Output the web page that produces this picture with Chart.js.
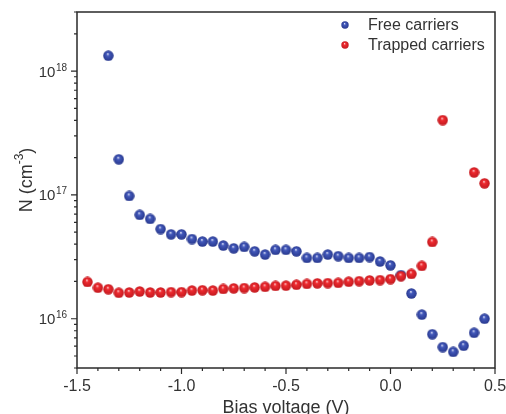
<!DOCTYPE html>
<html>
<head>
<meta charset="utf-8">
<script src="https://cdn.jsdelivr.net/npm/chart.js@4.4.1/dist/chart.umd.min.js"></script>
<style>
    html, body { margin: 0; padding: 0; background: #fff; }
    #chart { display: block; }
</style>
</head>
<body>
<canvas id="chart" width="506" height="414"></canvas>
<script>
/*Data*/
var freeVoltage = [-1.35, -1.30, -1.25, -1.20, -1.15, -1.10, -1.05, -1.00, -0.95, -0.90,
                   -0.85, -0.80, -0.75, -0.70, -0.65, -0.60, -0.55, -0.50, -0.45, -0.40,
                   -0.35, -0.30, -0.25, -0.20, -0.15, -0.10, -0.05, 0.00, 0.05, 0.10,
                   0.15, 0.20, 0.25, 0.30, 0.35, 0.40, 0.45];
var freeN = [1.33e18, 1.94e17, 9.8e16, 6.9e16, 6.4e16, 5.3e16, 4.8e16, 4.8e16, 4.4e16, 4.2e16,
             4.2e16, 3.9e16, 3.7e16, 3.8e16, 3.5e16, 3.3e16, 3.6e16, 3.6e16, 3.5e16, 3.1e16,
             3.1e16, 3.3e16, 3.2e16, 3.1e16, 3.1e16, 3.15e16, 2.9e16, 2.7e16, 2.25e16, 1.6e16,
             1.08e16, 7.5e15, 5.9e15, 5.4e15, 6.05e15, 7.7e15, 1.0e16];
var trapVoltage = [-1.45, -1.40, -1.35, -1.30, -1.25, -1.20, -1.15, -1.10, -1.05, -1.00,
                   -0.95, -0.90, -0.85, -0.80, -0.75, -0.70, -0.65, -0.60, -0.55, -0.50,
                   -0.45, -0.40, -0.35, -0.30, -0.25, -0.20, -0.15, -0.10, -0.05, 0.00,
                   0.05, 0.10, 0.15, 0.20, 0.25, 0.40, 0.45];
var trapN = [1.98e16, 1.78e16, 1.73e16, 1.62e16, 1.63e16, 1.66e16, 1.63e16, 1.63e16, 1.64e16, 1.64e16,
             1.69e16, 1.70e16, 1.69e16, 1.74e16, 1.76e16, 1.77e16, 1.79e16, 1.81e16, 1.84e16, 1.85e16,
             1.88e16, 1.91e16, 1.93e16, 1.94e16, 1.95e16, 1.99e16, 2.01e16, 2.04e16, 2.05e16, 2.09e16,
             2.21e16, 2.30e16, 2.67e16, 4.17e16, 4.02e17, 1.52e17, 1.24e17];
var seriesLabels = ['Free carriers', 'Trapped carriers'];
var xTickValues = [-1.5, -1.0, -0.5, 0.0, 0.5];
var yPowers = [16, 17, 18];

var fontFamily = '"Liberation Sans", Arial, Helvetica, sans-serif';
var textColor = '#333';
var frameColor = '#2a2a2a';

/*Glossy ball marker*/
var makeBall = function(size, base, dark, light) {
    var c = document.createElement('canvas');
    c.width = size;
    c.height = size;
    var g = c.getContext('2d');
    var r = size / 2;
    var grad = g.createRadialGradient(r - r * 0.12, r - r * 0.35, 0, r, r, r);
    grad.addColorStop(0, light);
    grad.addColorStop(0.3, base);
    grad.addColorStop(1, dark);
    g.fillStyle = grad;
    g.beginPath();
    g.arc(r, r, r - 0.3, 0, Math.PI * 2);
    g.fill();
    return c;
};

var blueBall = makeBall(11, '#4258ba', '#27378c', '#eef1ff');
var redBall = makeBall(11, '#ee2a2f', '#c0191f', '#ffe0e0');
var legendBalls = [makeBall(8, '#4258ba', '#27378c', '#eef1ff'),
                   makeBall(8, '#ee2a2f', '#c0191f', '#ffe0e0')];

var toPoints = function(xs, ys) {
    return xs.map(function(x, i) { return {x: x, y: ys[i]}; });
};

/*Frame, ticks, y labels, y title and legend*/
var decorPlugin = {
    id: 'decor',
    afterDraw: function(chart) {
        var ctx = chart.ctx;
        var area = chart.chartArea;
        var xs = chart.scales.x;
        var ys = chart.scales.y;
        var i, m, p, v, px, len;

        ctx.save();
        ctx.strokeStyle = frameColor;
        ctx.lineWidth = 1.5;
        ctx.strokeRect(area.left, area.top, area.right - area.left, area.bottom - area.top);

        /*x ticks, every 0.1 V*/
        ctx.lineWidth = 1.2;
        ctx.beginPath();
        for (i = -15; i <= 5; i++) {
            px = xs.getPixelForValue(i / 10);
            len = (i % 5 === 0) ? 6 : 3;
            ctx.moveTo(px, area.bottom);
            ctx.lineTo(px, area.bottom + len);
        }
        /*y ticks, log decades*/
        for (p = 15; p <= 18; p++) {
            for (m = 1; m <= 9; m++) {
                v = m * Math.pow(10, p);
                if (v < ys.min || v > ys.max) continue;
                px = ys.getPixelForValue(v);
                len = (m === 1) ? 6 : 3;
                ctx.moveTo(area.left, px);
                ctx.lineTo(area.left - len, px);
            }
        }
        ctx.stroke();

        /*y labels 10^n*/
        ctx.fillStyle = textColor;
        ctx.textBaseline = 'alphabetic';
        yPowers.forEach(function(pw) {
            var y = ys.getPixelForValue(Math.pow(10, pw));
            var right = area.left - 10;
            ctx.font = '10px ' + fontFamily;
            ctx.textAlign = 'right';
            ctx.fillText(String(pw), right, y - 0.5);
            var supW = ctx.measureText(String(pw)).width;
            ctx.font = '15px ' + fontFamily;
            ctx.fillText('10', right - supW - 0.5, y + 5.5);
        });

        /*y title N (cm-3)*/
        ctx.save();
        ctx.translate(25, 180);
        ctx.rotate(-Math.PI / 2);
        ctx.textAlign = 'left';
        ctx.font = '18px ' + fontFamily;
        var w1 = ctx.measureText('N (cm').width;
        var w3 = ctx.measureText(')').width;
        ctx.font = '12px ' + fontFamily;
        var w2 = ctx.measureText('-3').width;
        var x0 = -(w1 + w2 + w3) / 2;
        ctx.font = '18px ' + fontFamily;
        ctx.fillText('N (cm', x0, 6.5);
        ctx.fillText(')', x0 + w1 + w2, 6.5);
        ctx.font = '12px ' + fontFamily;
        ctx.fillText('-3', x0 + w1, -2.5);
        ctx.restore();

        /*legend*/
        ctx.font = '16px ' + fontFamily;
        ctx.textAlign = 'left';
        ctx.textBaseline = 'middle';
        chart.data.datasets.forEach(function(ds, k) {
            var ly = 25 + k * 20;
            var ball = legendBalls[k];
            ctx.drawImage(ball, 345 - ball.width / 2, ly - ball.height / 2);
            ctx.fillStyle = textColor;
            ctx.fillText(ds.label, 368, ly + 1);
        });
        ctx.restore();
    }
};

var chart = new Chart(document.getElementById('chart').getContext('2d'), {
    type: 'scatter',
    data: {
        datasets: [{
            label: seriesLabels[0],
            data: toPoints(freeVoltage, freeN),
            pointStyle: blueBall,
            order: 1
        }, {
            label: seriesLabels[1],
            data: toPoints(trapVoltage, trapN),
            pointStyle: redBall,
            order: 0
        }]
    },
    options: {
        responsive: false,
        animation: false,
        devicePixelRatio: 1,
        layout: {
            padding: {left: 0, top: 12, right: 11, bottom: 0}
        },
        plugins: {
            legend: {display: false},
            tooltip: {enabled: false}
        },
        scales: {
            x: {
                type: 'linear',
                position: 'bottom',
                min: -1.5,
                max: 0.5,
                afterBuildTicks: function(scale) {
                    scale.ticks = xTickValues.map(function(v) { return {value: v}; });
                },
                ticks: {
                    callback: function(v) { return Number(v).toFixed(1); },
                    font: {family: fontFamily, size: 16},
                    color: textColor,
                    padding: 3,
                    maxRotation: 0
                },
                grid: {display: false, drawTicks: true, tickLength: 6},
                border: {display: false},
                title: {
                    display: true,
                    text: 'Bias voltage (V)',
                    font: {family: fontFamily, size: 18},
                    color: textColor,
                    padding: {top: 0, bottom: -5}
                },
                afterFit: function(scale) {
                    scale.height = 46;
                    scale.paddingLeft = 0;
                    scale.paddingRight = 0;
                }
            },
            y: {
                type: 'logarithmic',
                position: 'left',
                min: 4e15,
                max: 3e18,
                ticks: {display: false},
                grid: {display: false},
                border: {display: false},
                afterFit: function(scale) {
                    scale.width = 77;
                    scale.paddingTop = 0;
                    scale.paddingBottom = 0;
                }
            }
        }
    },
    plugins: [decorPlugin]
});
</script>
</body>
</html>
